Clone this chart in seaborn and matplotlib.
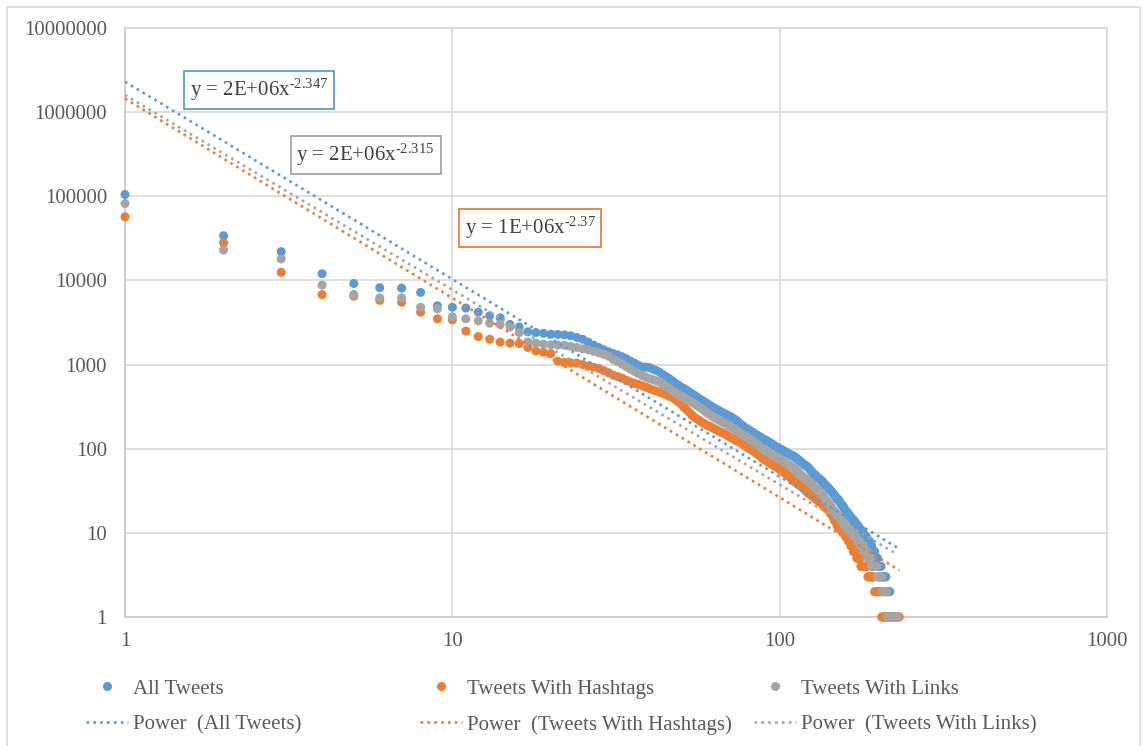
import numpy as np
import pandas as pd
import matplotlib
matplotlib.use("Agg")
import matplotlib.pyplot as plt
from matplotlib.lines import Line2D
from matplotlib.patches import Rectangle
from matplotlib.ticker import FixedLocator, FixedFormatter, NullLocator
import seaborn as sns

# ---------------------------------------------------------------- data
series_names = ["All Tweets", "Tweets With Hashtags", "Tweets With Links"]
series_colors = ["#5B9BD5", "#ED7D31", "#A5A5A5"]

# tweet counts by rank (rank = position in list, starting at 1)
all_tweets = [
    105000, 34000, 22000, 12000, 9200, 8200, 8100, 7200, 5000, 4800,
    4700, 4200, 3800, 3600, 3000, 2800, 2450, 2400, 2350, 2300,
    2280, 2250, 2200, 2100, 2000, 1850, 1700, 1600, 1500, 1420,
    1350, 1300, 1240, 1170, 1100, 1040, 980, 940, 930, 920,
    880, 850, 810, 760, 720, 680, 640, 600, 570, 540,
    520, 495, 470, 450, 430, 410, 390, 375, 360, 345,
    330, 318, 305, 295, 285, 276, 268, 260, 252, 245,
    238, 230, 222, 215, 205, 195, 188, 181, 175, 170,
    165, 160, 155, 150, 146, 142, 138, 135, 131, 128,
    125, 122, 119, 116, 113, 110, 107, 105, 102, 100,
    98, 96, 94, 92, 90, 88, 86, 85, 83, 82,
    80, 78, 76, 74, 72, 70, 68, 66, 64, 63,
    62, 60, 58, 56, 54, 52, 50, 49, 48, 46,
    45, 44, 43, 42, 41, 39, 38, 37, 36, 35,
    34, 33, 32, 31, 30, 29, 28, 27, 26, 25,
    25, 24, 23, 22, 21, 21, 20, 19, 18, 18,
    17, 17, 16, 16, 15, 15, 14, 14, 14, 13,
    13, 12, 12, 12, 11, 11, 11, 10, 10, 10,
    9, 9, 9, 9, 8, 8, 8, 8, 7, 7,
    7, 6, 6, 6, 6, 5, 5, 5, 5, 4,
    4, 4, 4, 4, 3, 3, 3, 3, 3, 3,
    3, 2, 2, 2, 2, 2, 2, 1, 1, 1,
    1, 1, 1, 1, 1, 1, 1, 1, 1,
]

hashtag_tweets = [
    57000, 28000, 12500, 6800, 6500, 5800, 5500, 4200, 3500, 3400,
    2500, 2150, 2000, 1850, 1800, 1780, 1600, 1450, 1400, 1350,
    1100, 1060, 1050, 1040, 1000, 960, 930, 900, 850, 800,
    750, 720, 690, 650, 620, 600, 580, 560, 540, 520,
    500, 485, 470, 455, 440, 420, 405, 385, 360, 340,
    310, 290, 270, 250, 235, 225, 215, 205, 198, 190,
    185, 180, 174, 168, 163, 158, 154, 150, 145, 140,
    136, 132, 128, 124, 121, 118, 114, 110, 106, 103,
    100, 97, 94, 91, 88, 85, 82, 79, 76, 74,
    72, 70, 68, 66, 65, 63, 62, 60, 59, 57,
    56, 54, 53, 51, 50, 48, 47, 45, 44, 42,
    41, 40, 39, 38, 37, 36, 35, 34, 33, 32,
    31, 30, 29, 29, 28, 27, 27, 26, 25, 25,
    24, 24, 23, 23, 22, 21, 21, 20, 20, 19,
    19, 18, 17, 17, 16, 15, 14, 14, 13, 12,
    12, 12, 11, 11, 11, 10, 10, 10, 9, 9,
    9, 8, 8, 8, 7, 7, 7, 6, 6, 6,
    6, 5, 5, 5, 5, 5, 4, 4, 4, 4,
    4, 4, 4, 4, 4, 3, 3, 3, 3, 3,
    3, 3, 3, 3, 2, 2, 2, 2, 2, 2,
    2, 2, 2, 2, 1, 1, 1, 1, 1, 1,
    1, 1, 1, 1, 1, 1, 1, 1, 1, 1,
    1, 1, 1, 1, 1, 1, 1, 1, 1, 1,
    1, 1,
]

link_tweets = [
    82000, 23000, 18000, 8800, 6800, 6200, 6200, 4800, 4600, 3700,
    3500, 3300, 3100, 3000, 2800, 2400, 1850, 1800, 1750, 1720,
    1700, 1700, 1650, 1600, 1540, 1500, 1440, 1380, 1320, 1260,
    1150, 1080, 1010, 940, 880, 830, 780, 740, 710, 680,
    660, 640, 620, 580, 550, 520, 490, 465, 440, 420,
    400, 385, 370, 355, 340, 325, 310, 295, 280, 265,
    255, 245, 236, 228, 220, 213, 206, 200, 194, 188,
    182, 176, 170, 164, 158, 152, 147, 142, 138, 134,
    130, 126, 122, 118, 114, 110, 106, 102, 99, 96,
    93, 91, 89, 87, 85, 83, 81, 79, 77, 75,
    74, 72, 70, 69, 67, 66, 64, 63, 61, 60,
    58, 56, 54, 52, 51, 49, 48, 46, 45, 44,
    43, 42, 41, 40, 38, 37, 36, 35, 34, 33,
    32, 31, 30, 29, 28, 27, 26, 25, 24, 23,
    23, 22, 21, 20, 19, 18, 18, 17, 17, 16,
    16, 15, 15, 14, 14, 13, 13, 12, 12, 12,
    11, 11, 11, 11, 10, 10, 10, 9, 9, 9,
    9, 8, 8, 8, 8, 7, 7, 7, 7, 7,
    6, 6, 6, 6, 6, 5, 5, 5, 5, 5,
    4, 4, 4, 4, 4, 4, 4, 4, 3, 3,
    3, 3, 3, 3, 3, 2, 2, 2, 2, 2,
    2, 2, 1, 1, 1, 1, 1, 1, 1, 1,
    1, 1, 1, 1, 1, 1, 1, 1, 1,
]

# power-law trendlines y = a * x^b (same order as series_names)
trend_coef = [2.3e6, 1.45e6, 1.6e6]
trend_exp = [-2.347, -2.37, -2.315]

x_ticks = [1, 10, 100, 1000]
y_ticks = [1, 10, 100, 1000, 10000, 100000, 1000000, 10000000]

# ---------------------------------------------------------------- style
sns.set_theme(style="white")
plt.rcParams["font.family"] = ["Liberation Serif", "DejaVu Serif"]
plt.rcParams["mathtext.fontset"] = "custom"
plt.rcParams["mathtext.rm"] = "Liberation Serif"
plt.rcParams["mathtext.it"] = "Liberation Serif:italic"
plt.rcParams["mathtext.bf"] = "Liberation Serif:bold"

TEXT = "#595959"
GRID = "#D9D9D9"
FS = 15

counts = [all_tweets, hashtag_tweets, link_tweets]
frames = []
for name, vals in zip(series_names, counts):
    frames.append(pd.DataFrame({
        "rank": np.arange(1, len(vals) + 1),
        "tweets": vals,
        "series": name,
    }))
points = pd.concat(frames, ignore_index=True)

fig = plt.figure(figsize=(11.43, 7.46), dpi=100)
ax = fig.add_axes([125 / 1143, 1 - 617 / 746, 982 / 1143, 589 / 746])

palette = dict(zip(series_names, series_colors))
sns.scatterplot(data=points, x="rank", y="tweets", hue="series",
                palette=palette, s=42, linewidth=0, alpha=1,
                legend=False, ax=ax, zorder=3, clip_on=False)

ax.set_xscale("log")
ax.set_yscale("log")

# fitted power-law trendlines spanning each series' rank range
dot_style = (0, (1, 1.6))
for name, color, a, b, vals in zip(series_names, series_colors,
                                   trend_coef, trend_exp, counts):
    xs = np.geomspace(1, len(vals), 60)
    tdf = pd.DataFrame({"rank": xs, "fit": a * xs ** b})
    sns.lineplot(data=tdf, x="rank", y="fit", color=color, lw=1.9,
                 linestyle=dot_style, estimator=None, ax=ax, zorder=4,
                 legend=False)

ax.set_xlim(1, 1000)
ax.set_ylim(1, 10000000)
ax.xaxis.set_major_locator(FixedLocator(x_ticks))
ax.xaxis.set_major_formatter(FixedFormatter([str(v) for v in x_ticks]))
ax.yaxis.set_major_locator(FixedLocator(y_ticks))
ax.yaxis.set_major_formatter(FixedFormatter([str(v) for v in y_ticks]))
ax.xaxis.set_minor_locator(NullLocator())
ax.yaxis.set_minor_locator(NullLocator())
ax.set_xlabel("")
ax.set_ylabel("")
ax.grid(True, which="major", color=GRID, lw=1.2)
ax.set_axisbelow(True)
ax.tick_params(axis="both", length=0, labelsize=FS, labelcolor=TEXT)
ax.tick_params(axis="y", pad=13)
ax.tick_params(axis="x", pad=11)
for sp in ax.spines.values():
    sp.set_color(GRID)
    sp.set_linewidth(1.2)
ax.spines["left"].set_color("#C8C8C8")
ax.spines["bottom"].set_color("#C8C8C8")

# trendline equation boxes
label_pos = {
    "All Tweets": (0.1365, 0.895),
    "Tweets With Links": (0.245, 0.784),
    "Tweets With Hashtags": (0.4125, 0.660),
}
for name, color, a, b in zip(series_names, series_colors, trend_coef, trend_exp):
    exponent = f"{b}".replace("-", "\u2010")
    text = "y = {}x$^{{\\mathrm{{{}}}}}$".format(f"{a:.0E}", exponent)
    ax.text(*label_pos[name], text, transform=ax.transAxes,
            ha="center", va="center", fontsize=FS, color="#404040",
            bbox=dict(boxstyle="square,pad=0.28", facecolor="white",
                      edgecolor=color, lw=1.3), zorder=6)

# legend: three columns, markers on the first row, trendlines on the second
col_left = [86, 420, 754]
for name, color, xl in zip(series_names, series_colors, col_left):
    handles = [
        Line2D([], [], marker="o", linestyle="none", color=color,
               markersize=5.5),
        Line2D([], [], color=color, lw=1.9, linestyle=dot_style),
    ]
    labels = [name, f"Power  ({name})"]
    leg = fig.legend(handles, labels, loc="upper left",
                     bbox_to_anchor=(xl / 1143, 1 - 679 / 746),
                     frameon=False, fontsize=FS, borderpad=0,
                     borderaxespad=0, handlelength=2.0, handletextpad=0.25,
                     labelspacing=0.78, numpoints=1)
    for t in leg.get_texts():
        t.set_color(TEXT)

# outer chart border
fig.patches.append(Rectangle((7 / 1143, -0.01), 1133 / 1143, 1.01 - 7 / 746,
                             transform=fig.transFigure, fill=False,
                             edgecolor=GRID, lw=1.2, clip_on=False))

fig.savefig("out.png", dpi=100)
